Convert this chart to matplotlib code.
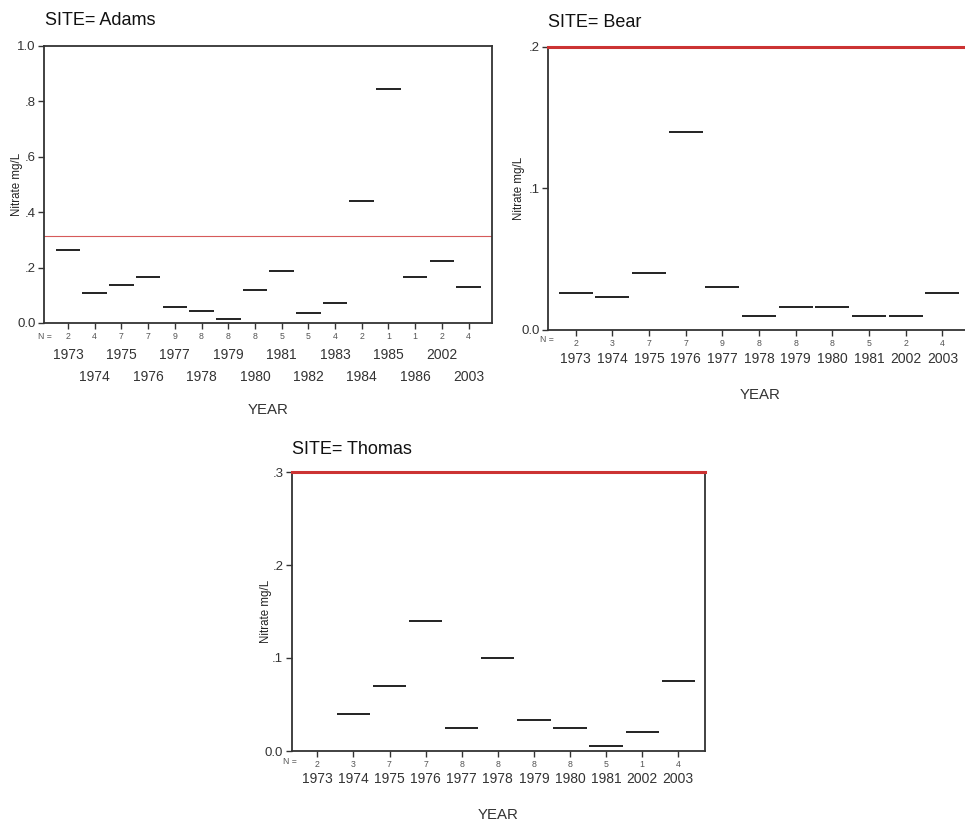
# nitrate means by year for three sites, SPSS-style category charts
import numpy as np
import matplotlib
matplotlib.use('Agg')
import matplotlib.pyplot as plt
import matplotlib.transforms as mtransforms

W, H = 965, 823

# Adams
adams_years = ['1973', '1974', '1975', '1976', '1977', '1978', '1979', '1980',
               '1981', '1982', '1983', '1984', '1985', '1986', '2002', '2003']
adams_n = [2, 4, 7, 7, 9, 8, 8, 8, 5, 5, 4, 2, 1, 1, 2, 4]
adams_vals = [0.262, 0.107, 0.136, 0.165, 0.057, 0.042, 0.016, 0.118,
              0.188, 0.037, 0.073, 0.441, 0.846, 0.165, 0.224, 0.131]
adams_ref = 0.314

# Bear
bear_years = ['1973', '1974', '1975', '1976', '1977', '1978', '1979', '1980',
              '1981', '2002', '2003']
bear_n = [2, 3, 7, 7, 9, 8, 8, 8, 5, 2, 4]
bear_vals = [0.026, 0.023, 0.040, 0.140, 0.030, 0.010, 0.016, 0.016,
             0.010, 0.010, 0.026]
bear_ref = 0.2

# Thomas (no mean drawn for 1973)
thomas_years = ['1973', '1974', '1975', '1976', '1977', '1978', '1979', '1980',
                '1981', '2002', '2003']
thomas_n = [2, 3, 7, 7, 8, 8, 8, 8, 5, 1, 4]
thomas_vals = [np.nan, 0.040, 0.070, 0.140, 0.025, 0.100, 0.033, 0.025,
               0.005, 0.020, 0.075]
thomas_ref = 0.3

plt.rcParams['font.family'] = ['Liberation Sans', 'DejaVu Sans']

SPINE = '#333333'
TXT = '#333333'

fig = plt.figure(figsize=(W / 100, H / 100), dpi=100)


def px_box(left, top, right, bottom):
    # pixel box -> figure fraction rect
    return [left / W, 1 - bottom / H, (right - left) / W, (bottom - top) / H]


def fy(y):
    return 1 - y / H


def panel(rect, years, n, vals, ref, ylim, yticks, yticklabels, xlim,
          title, title_xy, years_y, nlab_y, year_lab_xy, ylab_off,
          two_rows=False, thick_ref=True, right_spine=True):
    ax = fig.add_axes(rect)
    x = np.arange(len(years))
    ax.hlines(vals, x - 0.46, x + 0.46, colors='#222222', linewidth=1.4)

    ax.set_xlim(*xlim)
    ax.set_ylim(*ylim)
    ax.set_yticks(yticks)
    ax.set_yticklabels(yticklabels)
    ax.tick_params(axis='y', direction='out', length=4, width=1, pad=2,
                   colors=SPINE, labelsize=9.5, labelcolor=TXT)
    ax.set_xticks(x)
    ax.set_xticklabels([str(v) for v in n])
    ax.tick_params(axis='x', direction='out', length=4, width=1, pad=2.5,
                   colors=SPINE, labelsize=6.3, labelcolor='#555555')

    for s in ax.spines.values():
        s.set_color(SPINE)
        s.set_linewidth(1.3)
    if not right_spine:
        ax.spines['right'].set_visible(False)

    if thick_ref:
        ax.spines['top'].set_visible(False)
        ax.axhline(ref, color='#cc3333', linewidth=2.2, clip_on=False, zorder=5)
    else:
        ax.axhline(ref, color='#d65a5a', linewidth=0.8)

    ax.set_ylabel('Nitrate mg/L', fontsize=8.3, color='#222222')
    ax.yaxis.set_label_coords(-ylab_off / (rect[2] * W), 0.5)

    # year labels under the N counts
    tr = mtransforms.blended_transform_factory(ax.transData, fig.transFigure)
    for i, yr in enumerate(years):
        yy = years_y[1] if (two_rows and i % 2 == 1) else years_y[0]
        ax.text(i, fy(yy), yr, transform=tr, ha='center', va='center',
                fontsize=10, color=TXT)

    fig.text(nlab_y[0] / W, fy(nlab_y[1]), 'N =', ha='right', va='center',
             fontsize=6.3, color='#555555')
    fig.text(year_lab_xy[0] / W, fy(year_lab_xy[1]), 'YEAR', ha='center',
             va='center', fontsize=10.8, color=TXT)
    fig.text(title_xy[0] / W, fy(title_xy[1]), title, ha='left',
             va='baseline', fontsize=13, color='#111111')
    return ax


panel(px_box(44, 46, 492, 323), adams_years, adams_n, adams_vals, adams_ref,
      (0, 1.0), [0, 0.2, 0.4, 0.6, 0.8, 1.0],
      ['0.0', '.2', '.4', '.6', '.8', '1.0'], (-0.9, 15.88),
      'SITE= Adams', (45, 25), (355, 377), (52, 336), (268, 410), 21,
      two_rows=True, thick_ref=False)

panel(px_box(548, 46.6, 970, 330), bear_years, bear_n, bear_vals, bear_ref,
      (0, 0.2), [0, 0.1, 0.2], ['0.0', '.1', '.2'], (-0.755, 10.755),
      'SITE= Bear', (548, 27), (359, 359), (554, 340), (760, 395), 23,
      right_spine=False)

panel(px_box(291.7, 472, 705, 751), thomas_years, thomas_n, thomas_vals,
      thomas_ref, (0, 0.3), [0, 0.1, 0.2, 0.3], ['0.0', '.1', '.2', '.3'],
      (-0.71, 10.74), 'SITE= Thomas', (292, 454), (779, 779), (297, 762),
      (498, 815), 20)

fig.savefig('out.png', dpi=100)
